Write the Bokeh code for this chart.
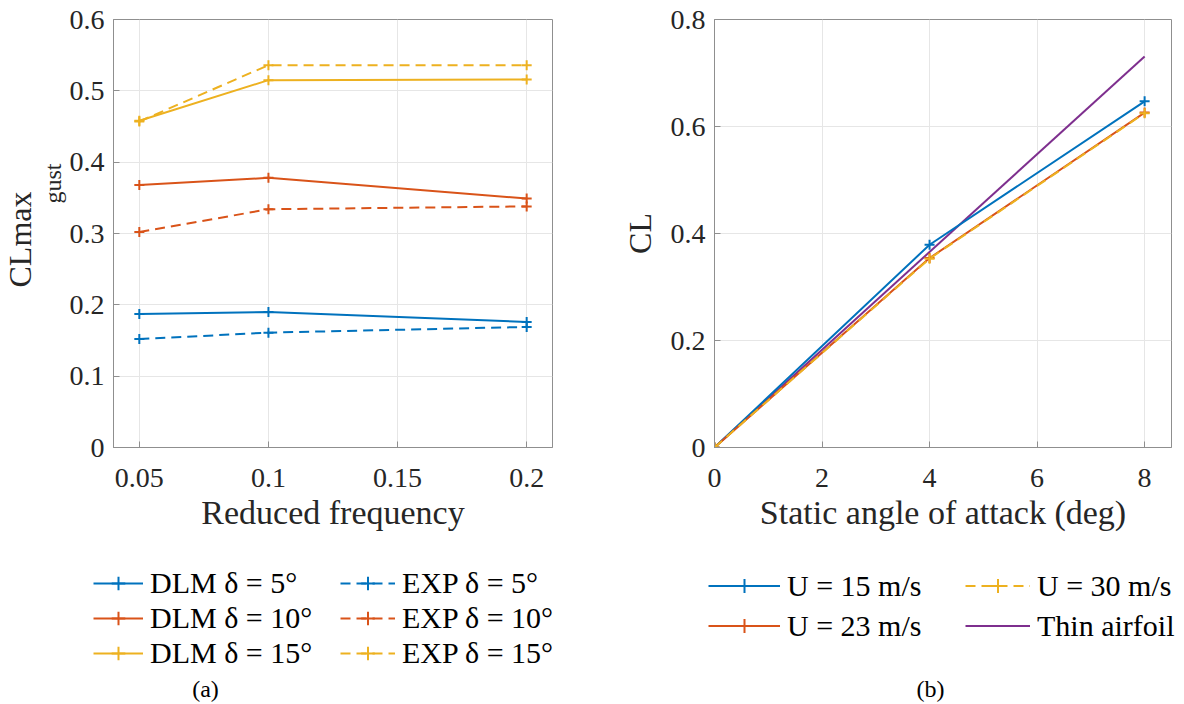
from bokeh.plotting import figure
from bokeh.layouts import row, column
from bokeh.models import Range1d, FixedTicker, Legend, LegendItem, Title, Label
from bokeh.embed import file_html
from bokeh.resources import INLINE

# ---------------- data (a) ----------------
freq = [0.05, 0.1, 0.2]
dlm_5 = [0.187, 0.190, 0.176]
dlm_10 = [0.368, 0.378, 0.349]
dlm_15 = [0.458, 0.515, 0.516]
exp_5 = [0.152, 0.161, 0.169]
exp_10 = [0.302, 0.334, 0.338]
exp_15 = [0.457, 0.536, 0.536]

# ---------------- data (b) ----------------
alpha = [0, 4, 8]
cl_u15 = [0, 0.379, 0.647]
cl_u23 = [0, 0.354, 0.626]
cl_u30 = [0, 0.353, 0.625]
thin_alpha = [0, 8]
thin_cl = [0, 0.731]

a_xticks = [0.05, 0.1, 0.15, 0.2]
a_xlabels = ["0.05", "0.1", "0.15", "0.2"]
a_yticks = [0, 0.1, 0.2, 0.3, 0.4, 0.5, 0.6]
a_ylabels = ["0", "0.1", "0.2", "0.3", "0.4", "0.5", "0.6"]
b_xticks = [0, 2, 4, 6, 8]
b_xlabels = ["0", "2", "4", "6", "8"]
b_yticks = [0, 0.2, 0.4, 0.6, 0.8]
b_ylabels = ["0", "0.2", "0.4", "0.6", "0.8"]

BLUE = "#0072BD"
RED = "#D95319"
YELLOW = "#EDB120"
PURPLE = "#7E2F8E"
FONT = "Liberation Serif"
TXT = "#262626"
AX = "#8f8f8f"
DASH = "10 6"


def style(p, xt, xl, yt, yl):
    p.outline_line_color = AX
    p.outline_line_width = 1
    for ax in (p.xaxis[0], p.yaxis[0]):
        ax.axis_line_color = AX
        ax.major_tick_line_color = AX
        ax.major_tick_in = 6
        ax.major_tick_out = 0
        ax.minor_tick_line_color = None
        ax.major_label_text_font = FONT
        ax.major_label_text_font_size = "28px"
        ax.major_label_text_color = TXT
        ax.axis_label_text_font = FONT
        ax.axis_label_text_font_size = "34px"
        ax.axis_label_text_font_style = "normal"
        ax.axis_label_text_color = TXT
    p.xaxis[0].ticker = FixedTicker(ticks=xt)
    p.xaxis[0].major_label_overrides = {t: l for t, l in zip(xt, xl)}
    p.yaxis[0].ticker = FixedTicker(ticks=yt)
    p.yaxis[0].major_label_overrides = {t: l for t, l in zip(yt, yl)}
    p.xaxis[0].major_label_standoff = 21
    p.xaxis[0].axis_label_standoff = 4
    p.yaxis[0].major_label_standoff = 9
    p.grid.grid_line_color = "#e6e6e6"
    p.grid.grid_line_width = 1
    p.background_fill_color = "white"
    p.border_fill_color = "white"


def series(p, x, y, color, dash="solid", marker=True):
    rs = [p.line(x, y, line_color=color, line_width=2, line_dash=dash)]
    if marker:
        rs.append(p.scatter(x, y, marker="cross", size=10, line_color=color, line_width=2))
    return rs


def make_legend(items, x, y, glyph_w, item_h, spacing):
    lg = Legend(items=items, location=(x, y), orientation="vertical")
    lg.label_text_font = FONT
    lg.label_text_font_size = "30px"
    lg.label_text_color = "black"
    lg.glyph_width = glyph_w
    lg.glyph_height = item_h
    lg.label_height = item_h
    lg.spacing = spacing
    lg.padding = 0
    lg.margin = 0
    lg.label_standoff = 7
    lg.border_line_color = None
    lg.background_fill_alpha = 0
    return lg


def key_figure(w, h):
    # legend strip under each panel; its data window lies outside the data,
    # so only the legend samples are seen
    f = figure(width=w, height=h, output_backend="svg", toolbar_location=None,
               x_axis_location=None, y_axis_location=None, min_border=0,
               x_range=Range1d(-3, -2), y_range=Range1d(-3, -2), title=None)
    f.outline_line_color = None
    f.grid.visible = False
    f.background_fill_color = "white"
    f.border_fill_color = "white"
    return f


def caption(f, text, x):
    f.add_layout(Label(x=x, y=16, x_units="screen", y_units="screen", text=text,
                       text_align="center", text_baseline="middle", text_font=FONT,
                       text_font_size="24px", text_color="black"))


TOP_H = 544
KEY_H = 160

# ---------------- figure (a) ----------------
pa = figure(width=608, height=TOP_H, output_backend="svg", toolbar_location=None,
            x_range=Range1d(0.04, 0.21), y_range=Range1d(0, 0.6),
            min_border_left=113, min_border_right=56, min_border_top=19,
            min_border_bottom=TOP_H - 447, title=None)
style(pa, a_xticks, a_xlabels, a_yticks, a_ylabels)
pa.xaxis[0].axis_label = "Reduced frequency"

a_series = [
    ("DLM δ = 5°", dlm_5, BLUE, "solid"),
    ("DLM δ = 10°", dlm_10, RED, "solid"),
    ("DLM δ = 15°", dlm_15, YELLOW, "solid"),
    ("EXP δ = 5°", exp_5, BLUE, DASH),
    ("EXP δ = 10°", exp_10, RED, DASH),
    ("EXP δ = 15°", exp_15, YELLOW, DASH),
]
for _, ys, c, d in a_series:
    series(pa, freq, ys, c, d)

# y label: CLmax with subscript "gust"
pa.add_layout(Title(text="gust", align="left", offset=244, standoff=0, vertical_align="middle",
                    text_font=FONT, text_font_size="24px", text_font_style="normal",
                    text_color=TXT), "left")
pa.add_layout(Title(text="CLmax", align="left", offset=160, standoff=0, vertical_align="middle",
                    text_font=FONT, text_font_size="32px", text_font_style="normal",
                    text_color=TXT), "left")

ka = key_figure(608, KEY_H)
ka_items = [LegendItem(label=lab, renderers=series(ka, freq, ys, c, d)) for lab, ys, c, d in a_series]
ka.add_layout(make_legend(ka_items[:3], 93, 34, 50, 34, 1), "center")
ka.add_layout(make_legend(ka_items[3:], 340, 34, 55, 34, 1), "center")
caption(ka, "(a)", 205)

# ---------------- figure (b) ----------------
pb = figure(width=576, height=TOP_H, output_backend="svg", toolbar_location=None,
            x_range=Range1d(0, 8.5), y_range=Range1d(0, 0.8),
            min_border_left=106, min_border_right=13, min_border_top=19,
            min_border_bottom=TOP_H - 447, title=None)
style(pb, b_xticks, b_xlabels, b_yticks, b_ylabels)
pb.xaxis[0].axis_label = "Static angle of attack (deg)"
pb.yaxis[0].axis_label = "CL"
pb.yaxis[0].axis_label_text_font_size = "32px"
pb.yaxis[0].axis_label_standoff = 10

b_series = [
    ("Thin airfoil", thin_alpha, thin_cl, PURPLE, "solid", False),
    ("U = 15 m/s", alpha, cl_u15, BLUE, "solid", True),
    ("U = 23 m/s", alpha, cl_u23, RED, "solid", True),
    ("U = 30 m/s", alpha, cl_u30, YELLOW, DASH, True),
]
for _, xs, ys, c, d, m in b_series:
    series(pb, xs, ys, c, d, m)

kb = key_figure(576, KEY_H)
kb_r = {lab: series(kb, xs, ys, c, d, m) for lab, xs, ys, c, d, m in b_series}
kb.add_layout(make_legend([LegendItem(label="U = 15 m/s", renderers=kb_r["U = 15 m/s"]),
                           LegendItem(label="U = 23 m/s", renderers=kb_r["U = 23 m/s"])],
                          100, 61, 72, 35, 5), "center")
kb.add_layout(make_legend([LegendItem(label="U = 30 m/s", renderers=kb_r["U = 30 m/s"]),
                           LegendItem(label="Thin airfoil", renderers=kb_r["Thin airfoil"])],
                          357, 61, 65, 35, 5), "center")
caption(kb, "(b)", 322)

layout = column(row(pa, pb), row(ka, kb))
open("out.html", "w").write(file_html(layout, INLINE))
